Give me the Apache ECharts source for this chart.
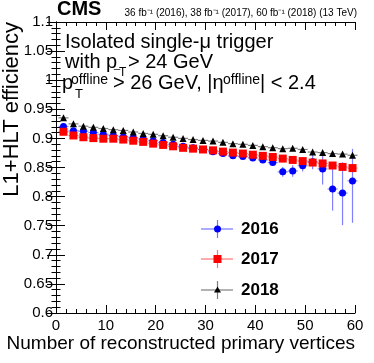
<!DOCTYPE html>
<html>
<head>
<meta charset="utf-8">
<script src="https://cdn.jsdelivr.net/npm/echarts@6/dist/echarts.min.js"></script>
<style>
html,body{margin:0;padding:0;background:#fff;}
#graph{width:374px;height:363px;}
</style>
</head>
<body>
<div id="graph"></div>
<script>
// bin centres (number of vertices)
var vertices = [1.5,3.5,5.5,7.5,9.5,11.5,13.5,15.5,17.5,19.5,21.5,23.5,25.5,27.5,29.5,
    31.5,33.5,35.5,37.5,39.5,41.5,43.5,45.5,47.5,49.5,51.5,53.5,55.5,57.5,59.5];

var eff2016 = [0.9205,0.913,0.9125,0.910,0.907,0.905,0.903,0.901,0.899,0.896,0.893,0.890,0.8865,0.884,0.881,
    0.877,0.874,0.870,0.869,0.8665,0.863,0.8585,0.8425,0.844,0.853,0.860,0.8476,0.813,0.806,0.827];
var err2016Lo = [0.002,0.002,0.002,0.002,0.002,0.002,0.002,0.002,0.002,0.002,0.003,0.003,0.003,0.003,0.003,
    0.004,0.004,0.004,0.004,0.005,0.005,0.006,0.0085,0.01,0.01,0.013,0.027,0.037,0.055,0.072];
var err2016Hi = [0.002,0.002,0.002,0.002,0.002,0.002,0.002,0.002,0.002,0.002,0.003,0.003,0.003,0.003,0.003,
    0.004,0.004,0.004,0.004,0.005,0.005,0.006,0.0085,0.01,0.01,0.013,0.027,0.046,0.053,0.055];

var eff2017 = [0.9114,0.905,0.902,0.9005,0.8995,0.8995,0.898,0.896,0.894,0.891,0.8888,0.8864,0.8838,0.8824,0.881,
    0.8795,0.8773,0.8756,0.874,0.872,0.870,0.868,0.8653,0.863,0.861,0.8585,0.857,0.8534,0.851,0.849];
var err2017 = [0.0015,0.0015,0.0015,0.0015,0.0015,0.0015,0.0015,0.0015,0.0015,0.0015,0.0015,0.0015,0.0015,0.0015,0.0015,
    0.002,0.002,0.002,0.002,0.002,0.002,0.0025,0.0025,0.0025,0.003,0.003,0.003,0.0035,0.0035,0.004];

var eff2018 = [0.9353,0.925,0.921,0.919,0.917,0.915,0.9137,0.911,0.9085,0.907,0.9046,0.902,0.900,0.898,0.8966,
    0.8954,0.8932,0.891,0.8898,0.888,0.8858,0.884,0.8824,0.883,0.881,0.8766,0.8756,0.8739,0.873,0.871];
var err2018 = [0.0015,0.0015,0.0015,0.0015,0.0015,0.0015,0.0015,0.0015,0.0015,0.0015,0.0015,0.0015,0.0015,0.0015,0.0015,
    0.0015,0.0015,0.0015,0.0015,0.002,0.002,0.002,0.002,0.002,0.002,0.0025,0.0025,0.0025,0.003,0.003];

var years = ['2016','2017','2018'];
var xTicks = [0,10,20,30,40,50,60];

var FONT = '"Liberation Sans", Arial, Helvetica, sans-serif';

function pts(vals, lo, hi){
    var out = [];
    for(var i=0;i<vals.length;i++){
        out.push([vertices[i], vals[i], lo[i], hi[i]]);
    }
    return out;
}

function errSeries(data, color){
    return {
        type: 'custom',
        data: data,
        z: 2,
        encode: { x: 0, y: 1 },
        renderItem: function(params, api){
            var x = api.value(0), y = api.value(1);
            var l = api.coord([x-1, y]), r = api.coord([x+1, y]);
            var t = api.coord([x, y+api.value(3)]), b = api.coord([x, y-api.value(2)]);
            var st = { stroke: color, lineWidth: 1.2 };
            return { type: 'group', children: [
                { type: 'line', shape: { x1: l[0], y1: l[1], x2: r[0], y2: r[1] }, style: st },
                { type: 'line', shape: { x1: t[0], y1: t[1], x2: b[0], y2: b[1] }, style: st }
            ]};
        }
    };
}

function markSeries(data, symbol, size, color){
    return {
        type: 'scatter', data: data, symbol: symbol, symbolSize: size, z: 3,
        itemStyle: { color: color, opacity: 1 }
    };
}

var dom = document.getElementById('graph');
var myChart = echarts.init(dom, null, { renderer: 'canvas' });

var d16 = pts(eff2016, err2016Lo, err2016Hi);
var d17 = pts(eff2017, err2017, err2017);
var d18 = pts(eff2018, err2018, err2018);

var axisCommon = {
    axisLine: { lineStyle: { color: '#000', width: 1 } },
    splitLine: { show: false },
    minorSplitLine: { show: false }
};

// legend drawn by hand, ROOT style
var legendY = [229, 259, 290];
var legendCol = ['rgba(0,0,255,0.55)','rgba(255,0,0,0.55)','rgba(0,0,0,0.5)'];
var legendMark = [
    { type: 'circle', shape: { cx: 217.5, cy: 0, r: 3.5 }, style: { fill: '#0000ff' } },
    { type: 'rect', shape: { x: 213.5, y: -4, width: 8, height: 8 }, style: { fill: '#ff0000' } },
    { type: 'polygon', shape: { points: [[217.5,-3.5],[221,2.5],[214,2.5]] }, style: { fill: '#000' } }
];
var graphics = [];
for(var k=0;k<years.length;k++){
    var m = legendMark[k];
    graphics.push({
        type: 'group', x: 0, y: legendY[k], children: [
            { type: 'line', shape: { x1: 201, y1: 0, x2: 233, y2: 0 }, style: { stroke: legendCol[k], lineWidth: 1.2 } },
            { type: 'line', shape: { x1: 217.5, y1: -9, x2: 217.5, y2: 9 }, style: { stroke: legendCol[k], lineWidth: 1.2 } },
            m,
            { type: 'text', x: 241, y: 0, style: { text: years[k], font: 'bold 17px ' + FONT, fill: '#000', verticalAlign: 'middle' } }
        ]
    });
}

function txt(x, y, s, size, extra){
    var o = { type: 'text', x: x, y: y, z: 10,
        style: { text: s, font: size + 'px ' + FONT, fill: '#000', verticalAlign: 'bottom' } };
    if(extra){ for(var e in extra){ o.style[e] = extra[e]; } }
    return o;
}

graphics.push(
    { type: 'text', x: 57, y: 19, style: { text: 'CMS', font: 'bold 20px ' + FONT, fill: '#000', verticalAlign: 'bottom' } },
    { type: 'text', x: 357, y: 18, style: { text: '36 fb\u207B\u00B9 (2016), 38 fb\u207B\u00B9 (2017), 60 fb\u207B\u00B9 (2018) (13 TeV)', font: '10px ' + FONT, fill: '#000', align: 'right', verticalAlign: 'bottom' } },
    txt(65, 52, 'Isolated single-\u03BC trigger', 20),
    txt(65, 72, 'with p', 20),
    txt(114, 70, '_', 11),
    txt(119, 79, 'T', 12),
    txt(128, 72, '> 24 GeV', 20),
    txt(62, 93, 'p', 20),
    txt(71, 87, 'offline', 14),
    txt(75, 101, 'T', 13),
    txt(113, 93, '> 26 GeV, |\u03B7', 20),
    txt(223, 87, 'offline', 14),
    txt(260, 93, '| < 2.4', 20),
    { type: 'text', x: 12, y: 22, rotation: Math.PI/2,
      style: { text: 'L1+HLT efficiency', font: '22px ' + FONT, fill: '#000', align: 'right', verticalAlign: 'middle' } },
    { type: 'text', x: 355, y: 353, style: { text: 'Number of reconstructed primary vertices', font: '19px ' + FONT, fill: '#000', align: 'right', verticalAlign: 'bottom' } }
);

var option = {
    animation: false,
    backgroundColor: '#fff',
    grid: { left: 56, right: 19, top: 22, bottom: 50, containLabel: false },
    xAxis: [
        Object.assign({}, axisCommon, {
            type: 'value', min: 0, max: 60, interval: 10, position: 'bottom',
            axisTick: { inside: true, length: 8, lineStyle: { color: '#000' } },
            minorTick: { show: true, splitNumber: 5, length: 4, lineStyle: { color: '#000' } },
            axisLabel: { fontFamily: FONT, fontSize: 15, color: '#000', margin: 5,
                formatter: function(v){ return xTicks.indexOf(v) >= 0 ? String(v) : ''; } }
        }),
        Object.assign({}, axisCommon, {
            type: 'value', min: 0, max: 60, interval: 10, position: 'top',
            axisTick: { inside: true, length: 8, lineStyle: { color: '#000' } },
            minorTick: { show: true, splitNumber: 5, length: 4, lineStyle: { color: '#000' } },
            axisLabel: { show: false }
        })
    ],
    yAxis: [
        Object.assign({}, axisCommon, {
            type: 'value', min: 0.6, max: 1.1, interval: 0.05, position: 'left',
            axisTick: { inside: true, length: 9, lineStyle: { color: '#000' } },
            minorTick: { show: true, splitNumber: 5, length: 4.5, lineStyle: { color: '#000' } },
            axisLabel: { fontFamily: FONT, fontSize: 15, color: '#000', margin: 3,
                formatter: function(v){ return String(+v.toFixed(2)); } }
        }),
        Object.assign({}, axisCommon, {
            type: 'value', min: 0.6, max: 1.1, interval: 0.05, position: 'right',
            axisTick: { inside: true, length: 9, lineStyle: { color: '#000' } },
            minorTick: { show: true, splitNumber: 5, length: 4.5, lineStyle: { color: '#000' } },
            axisLabel: { show: false }
        })
    ],
    series: [
        errSeries(d16, 'rgba(0,0,255,0.5)'),
        errSeries(d17, 'rgba(255,0,0,0.5)'),
        errSeries(d18, 'rgba(0,0,0,0.5)'),
        markSeries(d16, 'circle', 7, '#0000ff'),
        markSeries(d17, 'rect', 8, '#ff0000'),
        markSeries(d18, 'triangle', 7, '#000000')
    ],
    graphic: graphics
};

if (option && typeof option === "object") {
    myChart.setOption(option, true);
}
</script>
</body>
</html>
